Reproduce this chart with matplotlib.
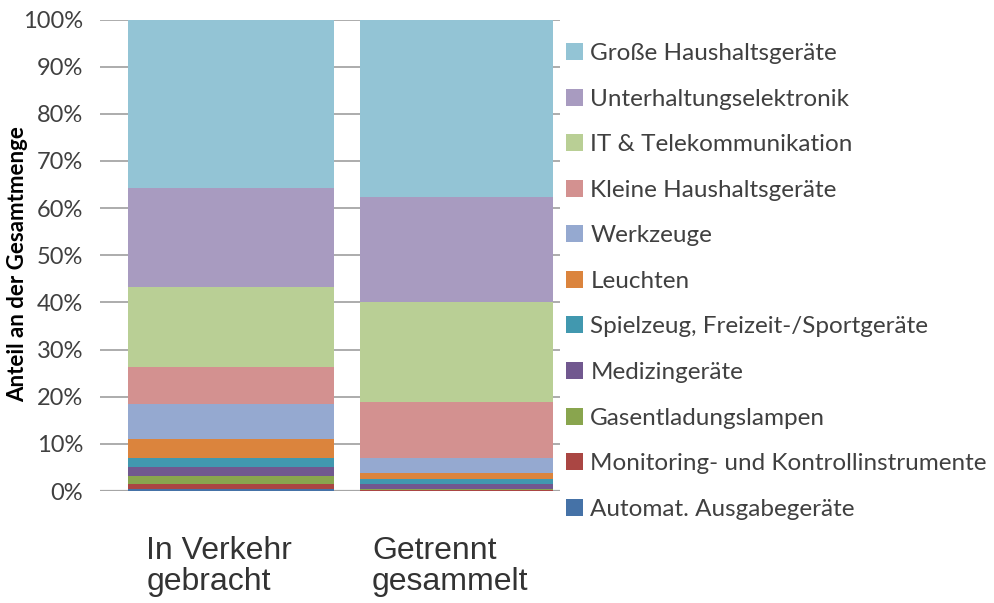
import matplotlib.pyplot as plt
from matplotlib.patches import Patch
from matplotlib.ticker import PercentFormatter

# categories on the x axis
groups = ['In Verkehr\ngebracht', 'Getrennt\ngesammelt']

# series, stacked from bottom to top (share of total, %)
series = [
    'Automat. Ausgabegeräte',
    'Monitoring- und Kontrollinstrumente',
    'Gasentladungslampen',
    'Medizingeräte',
    'Spielzeug, Freizeit-/Sportgeräte',
    'Leuchten',
    'Werkzeuge',
    'Kleine Haushaltsgeräte',
    'IT & Telekommunikation',
    'Unterhaltungselektronik',
    'Große Haushaltsgeräte',
]
in_verkehr = [0.5, 1.0, 1.6, 1.9, 1.9, 4.1, 7.5, 7.8, 17.0, 20.9, 35.8]
getrennt = [0.1, 0.15, 0.15, 1.0, 1.1, 1.4, 3.2, 11.7, 21.2, 22.3, 37.7]

colors = ['#4572A7', '#AA4643', '#89A54E', '#71588F', '#4198AF', '#DB843D',
          '#95A9D0', '#D39190', '#B9CF95', '#A89BC0', '#93C4D5']

fig = plt.figure(figsize=(9.94, 6.03), dpi=100)
ax = fig.add_axes([100 / 994, 112 / 603, 460 / 994, 471.5 / 603])

xpos = [0, 1]
widths = [0.913, 0.856]
bottoms = [0.0, 0.0]
for name, v1, v2, c in zip(series, in_verkehr, getrennt, colors):
    vals = [v1, v2]
    ax.bar(xpos, vals, width=widths, bottom=bottoms, color=c, zorder=2, linewidth=0)
    bottoms = [b + v for b, v in zip(bottoms, vals)]

ax.set_ylim(0, 100)
ax.set_xlim(-0.581, 1.459)
ax.set_yticks(range(0, 101, 10))
ax.yaxis.set_major_formatter(PercentFormatter(decimals=0))
ax.grid(axis='y', color='#a6a6a6', linewidth=1.3, zorder=0)
for s in ax.spines.values():
    s.set_visible(False)
ax.axhline(0, color='#a6a6a6', linewidth=1.6, zorder=1)

ax.tick_params(axis='y', length=0, pad=12, labelsize=17, labelcolor='#404040')
for lab in ax.yaxis.get_ticklabels():
    lab.set_family('Lato')

# category labels, left aligned blocks under each bar
ax.set_xticks([])
for x, g in zip(xpos, groups):
    ax.text(x - 0.375, -0.095, g, transform=ax.get_xaxis_transform(),
            ha='left', va='top', family='Liberation Sans', fontsize=23,
            color='#333333', linespacing=1.05)

# y axis title
fig.text(18 / 994, 1 - 264 / 603, 'Anteil an der Gesamtmenge', rotation=90,
         ha='center', va='center', family='Lato', fontweight='bold',
         fontsize=16, color='#000000')

handles = [Patch(facecolor=c, edgecolor='none') for c in colors][::-1]
leg = fig.legend(handles, series[::-1], loc='upper left',
                 bbox_to_anchor=(566 / 994, 1 - 43 / 603), frameon=False,
                 prop={'family': 'Lato', 'size': 17.5}, handlelength=0.7,
                 handleheight=0.7, handletextpad=0.3, labelspacing=1.01,
                 borderaxespad=0, borderpad=0)
for t in leg.get_texts():
    t.set_color('#404040')

fig.savefig('out.png', dpi=100)
